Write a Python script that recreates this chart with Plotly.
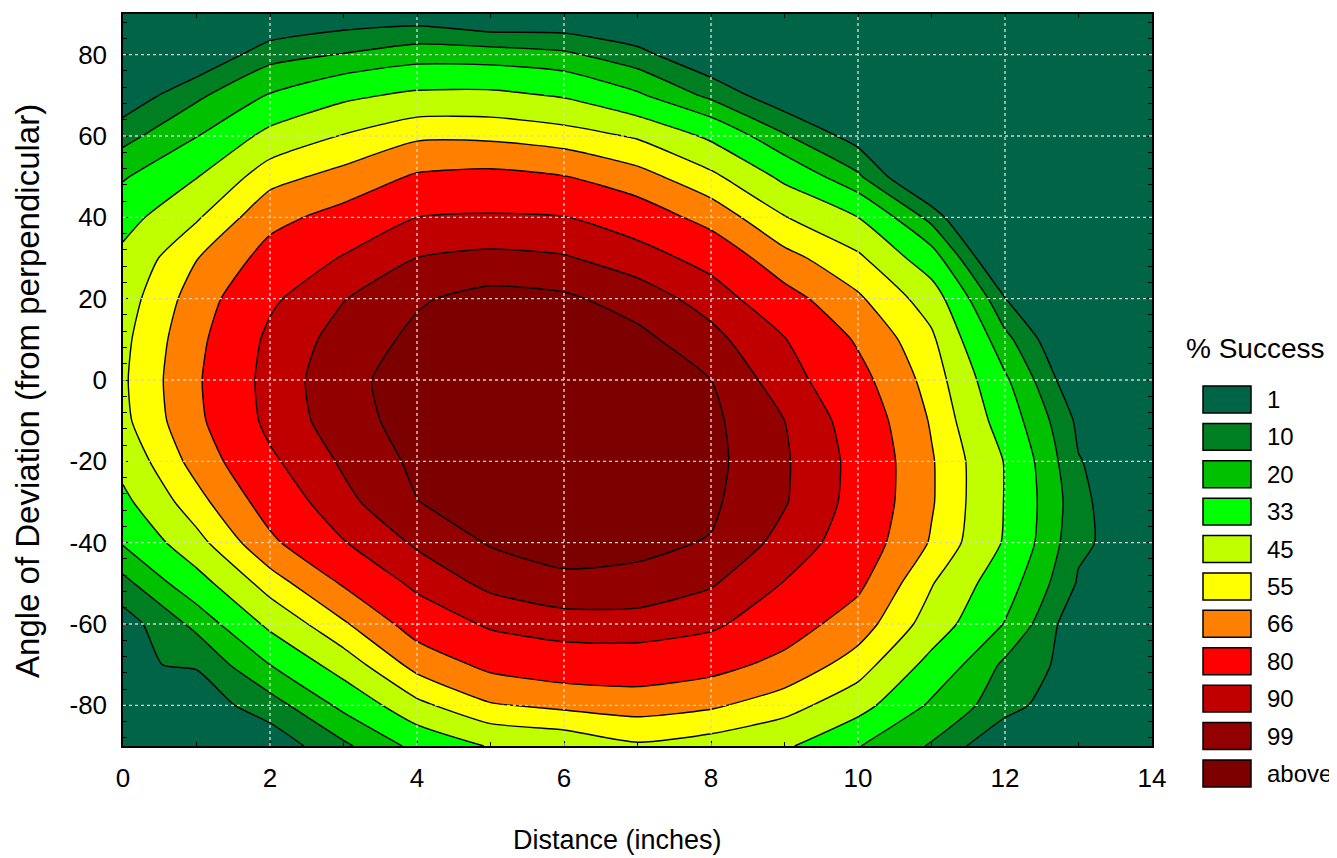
import plotly.graph_objects as go

# ---------------- data ----------------
distance = [0, 1, 2, 3, 4, 5, 6, 7, 8, 9, 10, 11, 12, 13, 14]          # inches
angle = [-90, -80, -70, -60, -50, -40, -30, -20, -10, 0,
         10, 20, 30, 40, 50, 60, 70, 80, 90]                              # degrees

# % success surface, one row per angle (bottom -> top), one column per distance
success = [
    [-10, -10, -5, 8, 23, 34, 37, 43.5, 40, 35, 20.5, 9, -7.7, -10, -10],          # -90
    [-10, -3.9, 5.5, 22.6, 42.2, 54, 57.3, 59.5, 56.6, 49.3, 37.9, 18, 4.7, -6.9, -10],  # -80
    [0.2, 1.7, 20, 39, 58.7, 69, 73.2, 73.6, 70, 62.7, 50.2, 29, 8, -3.3, -10],   # -70
    [-3.3, 12.5, 35.9, 53.6, 71.5, 81.8, 85.3, 85.5, 82.3, 71.8, 60.4, 40, 19.4, -6.2, -10],  # -60
    [6.8, 27.9, 49.9, 67.2, 82.8, 92.6, 97.6, 97, 91.1, 79.5, 68.5, 45.7, 25.4, 0, -10],  # -50
    [21, 41.3, 63.6, 79.4, 91.6, 99.8, 101.5, 100.8, 98.5, 86.7, 73.5, 54, 31.8, 2.7, -5],  # -40
    [30, 51.3, 71.5, 87.3, 98.8, 103, 104.5, 103.5, 100.5, 90.8, 76, 56, 32.5, 4, -12],  # -30
    [37, 59, 78, 91.5, 101, 105, 106.5, 105.5, 101.5, 91.2, 76.5, 56, 32.4, 1.5, -7],  # -20
    [42.5, 63.5, 83, 95.5, 102.5, 106, 107.5, 106, 101, 90, 74.5, 54, 26.9, -1, -10],  # -10
    [43.5, 64.5, 84, 96.5, 103, 106.5, 107, 104.5, 99, 85, 70, 51, 21.8, -7.9, -10],  # 0
    [42.5, 63, 82.5, 94, 101, 105, 104.5, 101.5, 93, 80.5, 64.5, 47, 12.9, -13.5, -10],  # 10
    [40, 60, 78, 89.6, 98, 102, 100.6, 95, 86, 70.7, 56.6, 39.8, 1.2, -10, -10],  # 20
    [36, 54.6, 70.4, 80.9, 90.1, 92.5, 90.9, 85.2, 75.6, 58.4, 47.2, 25.5, -14.7, -10, -10],  # 30
    [28.4, 43.7, 62.6, 70.1, 80, 81.2, 80.4, 73.3, 61.6, 45.6, 33, 6.7, -25, -10, -10],  # 40
    [18.8, 32.5, 51.3, 58.6, 67.4, 69.2, 66.4, 58.9, 47.7, 30.2, 11.6, -14.4, -10, -10, -10],  # 50
    [6.6, 19.6, 36.8, 45.7, 53.2, 52.9, 49.8, 43.8, 30.7, 11, -3.1, -10, -10, -10, -10],  # 60
    [-5.6, 8.0, 20.8, 30.4, 35.5, 35.9, 31.9, 21.7, 7.6, -5.7, -10, -10, -10, -10, -10],  # 70
    [-10, -7.6, 6.4, 10.5, 15.3, 14.7, 11.9, 3.8, -7.4, -10, -10, -10, -10, -10, -10],  # 80
    [-10, -10, -9.5, -5.3, -4.8, -9.8, -8.7, -10.2, -10, -10, -10, -10, -10, -10, -10],  # 90
]

levels = [1, 10, 20, 33, 45, 55, 66, 80, 90, 99]
legend_labels = ["1", "10", "20", "33", "45", "55", "66", "80", "90", "99", "above"]
band_colors = ["#006446", "#007f22", "#00c000", "#00ff00", "#c0ff00", "#ffff00",
               "#ff8000", "#ff0000", "#c00000", "#920000", "#7c0000"]

x_ticks = [0, 2, 4, 6, 8, 10, 12, 14]
x_ticktext = ["0", "2", "4", "6", "8", "10", "12", "14"]
y_ticks = [-80, -60, -40, -20, 0, 20, 40, 60, 80]
y_ticktext = ["-80", "-60", "-40", "-20", "0", "20", "40", "60", "80"]

# ---------------- layout geometry (pixels in the 1337x858 page) ----------------
BODY = 8                      # default page margin around the plot div
W, H = 1337 - BODY, 858 - BODY
PL, PR, PT, PB = 123, 1152, 12, 746
FONT = "Liberation Sans, Arial, Helvetica, sans-serif"


def fx(px):
    return (px - PL) / (PR - PL)


def fy(py):
    return (PB - py) / (PB - PT)


fig = go.Figure()

# stacked filled bands: each trace shades the region above its level
for lvl, col in zip(levels, band_colors[1:]):
    fig.add_trace(go.Contour(
        x=distance, y=angle, z=success,
        contours=dict(type="constraint", operation="<", value=lvl, showlines=True),
        fillcolor=col,
        line=dict(color="black", width=1.4, smoothing=0.6),
        showscale=False, hoverinfo="skip", showlegend=False,
    ))

# dotted grid drawn above the fills
for xv in x_ticks[1:-1]:
    fig.add_shape(type="line", xref="x", yref="paper", x0=xv, x1=xv, y0=0, y1=1,
                  line=dict(color="#d4d4d4", width=1.4, dash="dot"), layer="above")
for yv in y_ticks:
    fig.add_shape(type="line", xref="paper", yref="y", x0=0, x1=1, y0=yv, y1=yv,
                  line=dict(color="#d4d4d4", width=1.4, dash="dot"), layer="above")

# legend (custom boxes)
fig.add_annotation(xref="paper", yref="paper", x=fx(1255), y=fy(347), text="% Success",
                   showarrow=False, xanchor="center", yanchor="middle",
                   font=dict(family=FONT, size=28, color="black"))
for i, (lab, col) in enumerate(zip(legend_labels, band_colors)):
    top = 385 + i * 37.5
    fig.add_shape(type="rect", xref="paper", yref="paper",
                  x0=fx(1203), x1=fx(1251), y0=fy(top + 27), y1=fy(top),
                  fillcolor=col, line=dict(color="black", width=1.5), layer="above")
    fig.add_annotation(xref="paper", yref="paper", x=fx(1265), y=fy(top + 13.5), text=lab,
                       showarrow=False, xanchor="left", yanchor="middle",
                       font=dict(family=FONT, size=24, color="black"))

# axis titles
fig.add_annotation(xref="paper", yref="paper", x=fx(617), y=fy(840), text="Distance (inches)",
                   showarrow=False, xanchor="center", yanchor="middle",
                   font=dict(family=FONT, size=27, color="black"))
fig.add_annotation(xref="paper", yref="paper", x=fx(28), y=fy(390),
                   text="Angle of Deviation (from perpendicular)", textangle=-90,
                   showarrow=False, xanchor="center", yanchor="middle",
                   font=dict(family=FONT, size=33, color="black"))

fig.update_layout(
    width=W, height=H,
    margin=dict(l=PL - BODY, r=W - (PR - BODY), t=PT - BODY, b=H - (PB - BODY), pad=0),
    paper_bgcolor="white", plot_bgcolor=band_colors[0],
    showlegend=False,
)
fig.update_xaxes(
    range=[0, 14], tickvals=x_ticks, ticktext=x_ticktext, ticks="inside", ticklen=5,
    tickwidth=1.2, tickcolor="black",
    minor=dict(dtick=1, tick0=0, ticks="inside", ticklen=4, tickcolor="black", showgrid=False),
    showline=True, linecolor="black", linewidth=1.5, mirror="ticks",
    showgrid=False, zeroline=False, ticklabelstandoff=8,
    tickfont=dict(family=FONT, size=26, color="black"),
)
fig.update_yaxes(
    range=[-90, 90], tickvals=y_ticks, ticktext=y_ticktext, ticks="inside", ticklen=5,
    tickwidth=1.2, tickcolor="black",
    minor=dict(dtick=4, tick0=0, ticks="inside", ticklen=4, tickcolor="black", showgrid=False),
    showline=True, linecolor="black", linewidth=1.5, mirror="ticks",
    showgrid=False, zeroline=False, ticklabelstandoff=9,
    tickfont=dict(family=FONT, size=26, color="black"),
)

fig.write_html("out.html")
